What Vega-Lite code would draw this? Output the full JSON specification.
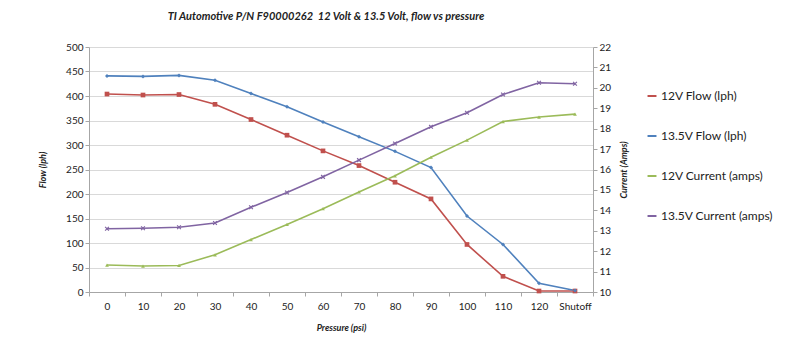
{
  "$schema": "https://vega.github.io/schema/vega-lite/v6.json",
  "autosize": "none",
  "width": 504,
  "height": 245,
  "padding": {"left": 89, "top": 47, "right": 207, "bottom": 70},
  "background": "white",
  "config": {
    "font": "Lato",
    "view": {"stroke": null},
    "axis": {"labelFont": "Lato", "titleFont": "Lato", "labelColor": "#222", "titleColor": "#222"}
  },
  "title": {
    "text": "TI Automotive P/N F90000262\u00a0 12 Volt & 13.5 Volt, flow vs pressure",
    "font": "Lato",
    "fontSize": 11,
    "fontStyle": "italic",
    "fontWeight": "bold",
    "color": "#222",
    "anchor": "middle",
    "dx": -15,
    "offset": 20
  },
  "datasets": {
    "flow": [
      {"p": "0", "s": "12V Flow (lph)", "v": 404},
      {"p": "10", "s": "12V Flow (lph)", "v": 402},
      {"p": "20", "s": "12V Flow (lph)", "v": 403},
      {"p": "30", "s": "12V Flow (lph)", "v": 383},
      {"p": "40", "s": "12V Flow (lph)", "v": 352},
      {"p": "50", "s": "12V Flow (lph)", "v": 320},
      {"p": "60", "s": "12V Flow (lph)", "v": 288},
      {"p": "70", "s": "12V Flow (lph)", "v": 258},
      {"p": "80", "s": "12V Flow (lph)", "v": 224},
      {"p": "90", "s": "12V Flow (lph)", "v": 190},
      {"p": "100", "s": "12V Flow (lph)", "v": 97},
      {"p": "110", "s": "12V Flow (lph)", "v": 32},
      {"p": "120", "s": "12V Flow (lph)", "v": 2},
      {"p": "Shutoff", "s": "12V Flow (lph)", "v": 2},
      {"p": "0", "s": "13.5V Flow (lph)", "v": 441},
      {"p": "10", "s": "13.5V Flow (lph)", "v": 440},
      {"p": "20", "s": "13.5V Flow (lph)", "v": 442},
      {"p": "30", "s": "13.5V Flow (lph)", "v": 432},
      {"p": "40", "s": "13.5V Flow (lph)", "v": 405},
      {"p": "50", "s": "13.5V Flow (lph)", "v": 378},
      {"p": "60", "s": "13.5V Flow (lph)", "v": 347},
      {"p": "70", "s": "13.5V Flow (lph)", "v": 317},
      {"p": "80", "s": "13.5V Flow (lph)", "v": 287},
      {"p": "90", "s": "13.5V Flow (lph)", "v": 254},
      {"p": "100", "s": "13.5V Flow (lph)", "v": 155},
      {"p": "110", "s": "13.5V Flow (lph)", "v": 97},
      {"p": "120", "s": "13.5V Flow (lph)", "v": 18},
      {"p": "Shutoff", "s": "13.5V Flow (lph)", "v": 3}
    ],
    "current": [
      {"p": "0", "s": "12V Current (amps)", "v": 11.32},
      {"p": "10", "s": "12V Current (amps)", "v": 11.27},
      {"p": "20", "s": "12V Current (amps)", "v": 11.3},
      {"p": "30", "s": "12V Current (amps)", "v": 11.82},
      {"p": "40", "s": "12V Current (amps)", "v": 12.57},
      {"p": "50", "s": "12V Current (amps)", "v": 13.31},
      {"p": "60", "s": "12V Current (amps)", "v": 14.08},
      {"p": "70", "s": "12V Current (amps)", "v": 14.9},
      {"p": "80", "s": "12V Current (amps)", "v": 15.69},
      {"p": "90", "s": "12V Current (amps)", "v": 16.6},
      {"p": "100", "s": "12V Current (amps)", "v": 17.44},
      {"p": "110", "s": "12V Current (amps)", "v": 18.35},
      {"p": "120", "s": "12V Current (amps)", "v": 18.57},
      {"p": "Shutoff", "s": "12V Current (amps)", "v": 18.71},
      {"p": "0", "s": "13.5V Current (amps)", "v": 13.1},
      {"p": "10", "s": "13.5V Current (amps)", "v": 13.12},
      {"p": "20", "s": "13.5V Current (amps)", "v": 13.17},
      {"p": "30", "s": "13.5V Current (amps)", "v": 13.38},
      {"p": "40", "s": "13.5V Current (amps)", "v": 14.15},
      {"p": "50", "s": "13.5V Current (amps)", "v": 14.87},
      {"p": "60", "s": "13.5V Current (amps)", "v": 15.64},
      {"p": "70", "s": "13.5V Current (amps)", "v": 16.46},
      {"p": "80", "s": "13.5V Current (amps)", "v": 17.27},
      {"p": "90", "s": "13.5V Current (amps)", "v": 18.09},
      {"p": "100", "s": "13.5V Current (amps)", "v": 18.78},
      {"p": "110", "s": "13.5V Current (amps)", "v": 19.67},
      {"p": "120", "s": "13.5V Current (amps)", "v": 20.25},
      {"p": "Shutoff", "s": "13.5V Current (amps)", "v": 20.2}
    ]
  },
  "encoding": {
    "x": {
      "field": "p",
      "type": "ordinal",
      "bandPosition": 0.5,
      "scale": {"type": "band", "domain": ["0","10","20","30","40","50","60","70","80","90","100","110","120","Shutoff"], "paddingInner": 0, "paddingOuter": 0},
      "axis": {
        "title": "Pressure (psi)",
        "titleFontSize": 9,
        "titleFontStyle": "italic",
        "titleFontWeight": "bold",
        "titlePadding": 12,
        "labelAngle": 0,
        "labelFontSize": 10,
        "labelPadding": 5,
        "tickBand": "extent",
        "tickSize": 4,
        "tickColor": "#a6a6a6",
        "domainColor": "#a6a6a6",
        "grid": false
      }
    },
    "color": {
      "field": "s",
      "type": "nominal",
      "scale": {
        "domain": ["12V Flow (lph)", "13.5V Flow (lph)", "12V Current (amps)", "13.5V Current (amps)"],
        "range": ["#C0504D", "#4F81BD", "#9BBB59", "#8064A2"]
      },
      "legend": {
        "title": null,
        "orient": "none",
        "legendX": 557,
        "legendY": 43,
        "symbolType": "stroke",
        "symbolStrokeWidth": 2,
        "symbolSize": 80,
        "labelFontSize": 12,
        "labelFont": "Lato",
        "labelColor": "#222",
        "rowPadding": 28,
        "labelOffset": 3
      }
    }
  },
  "layer": [
    {
      "data": {"name": "flow"},
      "encoding": {
        "y": {
          "field": "v",
          "type": "quantitative",
          "scale": {"domain": [0, 500], "nice": false},
          "axis": {
            "title": "Flow (lph)",
            "titleFontSize": 9,
            "titleFontStyle": "italic",
            "titleFontWeight": "bold",
            "titlePadding": 18,
            "values": [0,50,100,150,200,250,300,350,400,450,500],
            "labelFontSize": 10,
            "tickSize": 4,
            "tickColor": "#a6a6a6",
            "domainColor": "#a6a6a6",
            "gridColor": "#d9d9d9"
          }
        }
      },
      "layer": [
        {"mark": {"type": "line", "strokeWidth": 1.6}},
        {
          "transform": [{"filter": "datum.s === '12V Flow (lph)'"}],
          "mark": {"type": "point", "filled": true, "opacity": 1, "shape": "square", "size": 22}
        },
        {
          "transform": [{"filter": "datum.s === '13.5V Flow (lph)'"}],
          "mark": {"type": "point", "filled": true, "opacity": 1, "shape": "diamond", "size": 16}
        }
      ]
    },
    {
      "data": {"name": "current"},
      "encoding": {
        "y": {
          "field": "v",
          "type": "quantitative",
          "scale": {"domain": [10, 22], "nice": false, "zero": false},
          "axis": {
            "orient": "right",
            "title": "Current (Amps)",
            "titleAngle": 270,
            "titleBaseline": "top",
            "titleFontSize": 9,
            "titleFontStyle": "italic",
            "titleFontWeight": "bold",
            "titlePadding": 9,
            "values": [10,11,12,13,14,15,16,17,18,19,20,21,22],
            "labelFontSize": 10,
            "tickSize": 4,
            "tickColor": "#a6a6a6",
            "domainColor": "#a6a6a6",
            "grid": false
          }
        }
      },
      "layer": [
        {"mark": {"type": "line", "strokeWidth": 1.6}},
        {
          "transform": [{"filter": "datum.s === '12V Current (amps)'"}],
          "mark": {"type": "point", "filled": true, "opacity": 1, "shape": "triangle-up", "size": 14}
        },
        {
          "transform": [{"filter": "datum.s === '13.5V Current (amps)'"}],
          "mark": {"type": "point", "filled": false, "opacity": 1, "strokeWidth": 1.2, "shape": "M-1,-1L1,1M-1,1L1,-1", "size": 14}
        }
      ]
    }
  ],
  "resolve": {"scale": {"y": "independent", "color": "shared"}}
}
